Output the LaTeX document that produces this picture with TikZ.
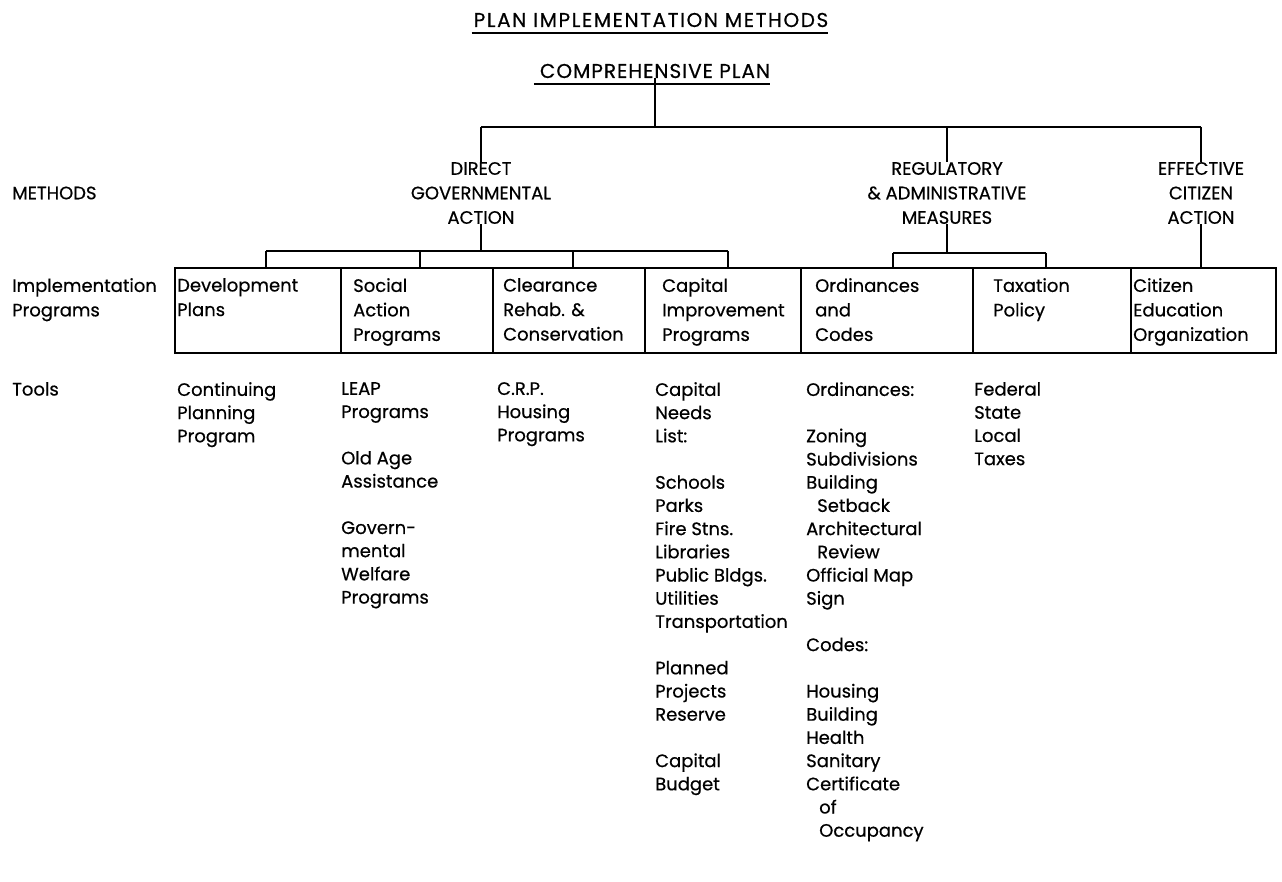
\documentclass[tikz,border=0pt]{standalone}
\usepackage{fontspec}
\setmainfont{Poppins}[FakeBold=0.5]
\newlength{\gapline}
\setlength{\gapline}{23.2pt}
\begin{document}
\begin{tikzpicture}[x=1pt,y=-1pt,
  every node/.style={inner sep=0pt, font=\fontsize{18}{24.5}\selectfont},
  rule/.style={line width=2.4pt},
  underl/.style={line width=2pt},
  progbox/.style={draw, line width=2.2pt, anchor=north west, minimum height=85pt},
  heading/.style={align=center},
  col/.style={anchor=north west, align=left},
  toolcol/.style={col, font=\fontsize{18}{23.2}\selectfont},
  titletext/.style={font=\fontsize{20}{24}\selectfont\addfontfeatures{LetterSpace=#1}}]
\useasboundingbox[fill=white] (0,0) rectangle (1282,882);

% titles
\node[titletext=8] (title) at (651,20) {PLAN IMPLEMENTATION METHODS};
\draw[underl] ([xshift=-2pt,yshift=-6pt]title.south west) -- ([xshift=0pt,yshift=-6pt]title.south east);
\node[titletext=5] (comp) at (655,71) {COMPREHENSIVE PLAN};
\draw[underl] ([xshift=-6pt,yshift=-6pt]comp.south west) -- ([xshift=0pt,yshift=-6pt]comp.south east);

% methods
\node[heading] (dga) at (481,193) {DIRECT\\GOVERNMENTAL\\ACTION};
\node[heading] (ram) at (947,193) {REGULATORY\\\& ADMINISTRATIVE\\MEASURES};
\node[heading] (eca) at (1201,193) {EFFECTIVE\\CITIZEN\\ACTION};

% row labels
\node[anchor=west] (methods) at (12,193) {METHODS};
\node[col] (impl) at (12,278) {Implementation\\Programs};
\node[col] (tools) at (12,382) {Tools};

% program boxes
\node[progbox, minimum width=166pt] (b1) at (174,267) {};
\node[progbox, minimum width=152pt] (b2) at (340,267) {};
\node[progbox, minimum width=152pt] (b3) at (492,267) {};
\node[progbox, minimum width=156pt] (b4) at (644,267) {};
\node[progbox, minimum width=172pt] (b5) at (800,267) {};
\node[progbox, minimum width=158pt] (b6) at (972,267) {};
\node[progbox, minimum width=145pt] (b7) at (1130,267) {};

\node[col] (t1) at (177,278) {Development\\Plans};
\node[col] (t2) at (353,278) {Social\\Action\\Programs};
\node[col] (t3) at (503,278) {Clearance\\Rehab. \&\\Conservation};
\node[col] (t4) at (662,278) {Capital\\Improvement\\Programs};
\node[col] (t5) at (815,278) {Ordinances\\and\\Codes};
\node[col] (t6) at (993,278) {Taxation\\Policy};
\node[col] (t7) at (1133,278) {Citizen\\Education\\Organization};

% tools
\node[toolcol] (c1) at (177,382) {Continuing\\Planning\\Program};
\node[toolcol] (c2) at (341,382) {LEAP\\Programs\\[\gapline]Old Age\\Assistance\\[\gapline]Govern-\\mental\\Welfare\\Programs};
\node[toolcol] (c3) at (497,382) {C.R.P.\\Housing\\Programs};
\node[toolcol] (c4) at (655,382) {Capital\\Needs\\List:\\[\gapline]Schools\\Parks\\Fire Stns.\\Libraries\\Public Bldgs.\\Utilities\\Transportation\\[\gapline]Planned\\Projects\\Reserve\\[\gapline]Capital\\Budget};
\node[toolcol] (c5) at (806,382) {Ordinances:\\[\gapline]Zoning\\Subdivisions\\Building\\\hspace*{11pt}Setback\\Architectural\\\hspace*{11pt}Review\\Official Map\\Sign\\[\gapline]Codes:\\[\gapline]Housing\\Building\\Health\\Sanitary\\Certificate\\\hspace*{13pt}of\\\hspace*{13pt}Occupancy};
\node[toolcol] (c6) at (974,382) {Federal\\State\\Local\\Taxes};

% connectors: plan to methods
\coordinate (bar) at (0,127);
\draw[rule] (comp.south) -- (comp.south |- bar);
\draw[rule] (dga.north |- bar) -- (eca.north |- bar);
\draw[rule] (dga.north |- bar) -- (dga.north);
\draw[rule] (ram.north |- bar) -- (ram.north);
\draw[rule] (eca.north |- bar) -- (eca.north);

% connectors: methods to programs
\coordinate (p1) at (266,251);
\coordinate (p2) at (420,251);
\coordinate (p3) at (573,251);
\coordinate (p4) at (728,251);
\draw[rule] (dga.south) -- (dga.south |- p1);
\draw[rule] (p1) -- (p4);
\foreach \p in {p1,p2,p3,p4} \draw[rule] (\p) -- (\p |- b1.north);
\coordinate (r1) at (893,253);
\coordinate (r2) at (1046,253);
\draw[rule] (ram.south) -- (ram.south |- r1);
\draw[rule] (r1) -- (r2);
\foreach \p in {r1,r2} \draw[rule] (\p) -- (\p |- b5.north);
\draw[rule] (eca.south) -- (eca.south |- b7.north);
\end{tikzpicture}
\end{document}
